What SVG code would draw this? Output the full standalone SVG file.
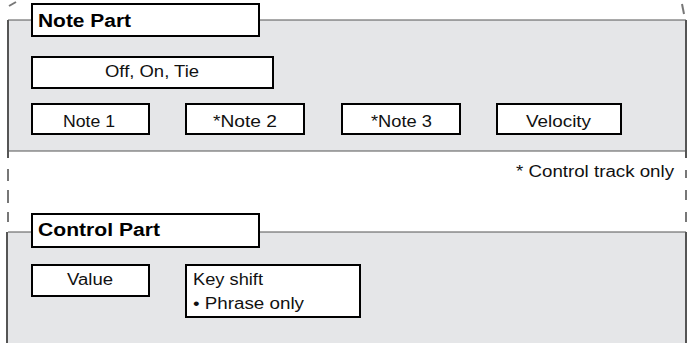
<svg xmlns="http://www.w3.org/2000/svg" width="694" height="343" viewBox="0 0 694 343">
<style>
.panel{fill:#e5e6e8;stroke:none}
.edge{stroke:#555;stroke-width:1.2;fill:none}
.side{stroke:#555;stroke-width:2;fill:none}
.dash{stroke:#777;stroke-width:2;fill:none}
.box{fill:#fff;stroke:#000;stroke-width:2}
.t{font-family:"Liberation Sans",Arial,sans-serif;font-size:16px;fill:#111}
.h{font-family:"Liberation Sans",Arial,sans-serif;font-size:18px;font-weight:bold;fill:#000}
</style>
<g id="frame">
<line class="dash" x1="9" y1="6" x2="16" y2="2"/>
<line class="dash" x1="682" y1="4" x2="684" y2="14"/>
<path class="dash" d="M8 169V181M8 190V203M8 212V222"/>
<path class="dash" d="M686 170V178M686 190V200M686 212V222"/>
</g>
<g id="note-part">
<rect class="panel" x="8" y="20" width="678" height="131"/>
<path class="edge" d="M8 20H686M8 151H686"/>
<path class="side" d="M8 20V158M686 20V158"/>
<g id="note-part-title">
<rect class="box" x="32" y="4" width="227" height="32"/>
<text class="h" x="38" y="27" textLength="93" lengthAdjust="spacingAndGlyphs">Note Part</text>
</g>
<g id="off-on-tie">
<rect class="box" x="32" y="57" width="241" height="31"/>
<text class="t" x="105" y="77" textLength="94" lengthAdjust="spacingAndGlyphs">Off, On, Tie</text>
</g>
<g id="note1">
<rect class="box" x="32" y="104" width="117" height="30"/>
<text class="t" x="63" y="127" textLength="52" lengthAdjust="spacingAndGlyphs">Note 1</text>
</g>
<g id="note2">
<rect class="box" x="186" y="104" width="118" height="30"/>
<text class="t" x="213" y="127" textLength="64" lengthAdjust="spacingAndGlyphs">*Note 2</text>
</g>
<g id="note3">
<rect class="box" x="342" y="104" width="118" height="30"/>
<text class="t" x="371" y="127" textLength="61" lengthAdjust="spacingAndGlyphs">*Note 3</text>
</g>
<g id="velocity">
<rect class="box" x="497" y="104" width="124" height="30"/>
<text class="t" x="526" y="127" textLength="65" lengthAdjust="spacingAndGlyphs">Velocity</text>
</g>
</g>
<text id="footnote" class="t" x="516" y="177" textLength="158" lengthAdjust="spacingAndGlyphs">* Control track only</text>
<g id="control-part">
<rect class="panel" x="8" y="232" width="678" height="111"/>
<path class="edge" d="M8 232H686"/>
<path class="side" d="M7 232V343M686 232V343"/>
<g id="control-part-title">
<rect class="box" x="32" y="214" width="227" height="33"/>
<text class="h" x="38" y="236" textLength="122" lengthAdjust="spacingAndGlyphs">Control Part</text>
</g>
<g id="value">
<rect class="box" x="32" y="265" width="117" height="31"/>
<text class="t" x="67" y="285" textLength="46" lengthAdjust="spacingAndGlyphs">Value</text>
</g>
<g id="key-shift">
<rect class="box" x="186" y="265" width="174" height="52"/>
<text class="t" x="193" y="285" textLength="70" lengthAdjust="spacingAndGlyphs">Key shift</text>
<text class="t" x="193" y="309" textLength="111" lengthAdjust="spacingAndGlyphs">• Phrase only</text>
</g>
</g>
</svg>
